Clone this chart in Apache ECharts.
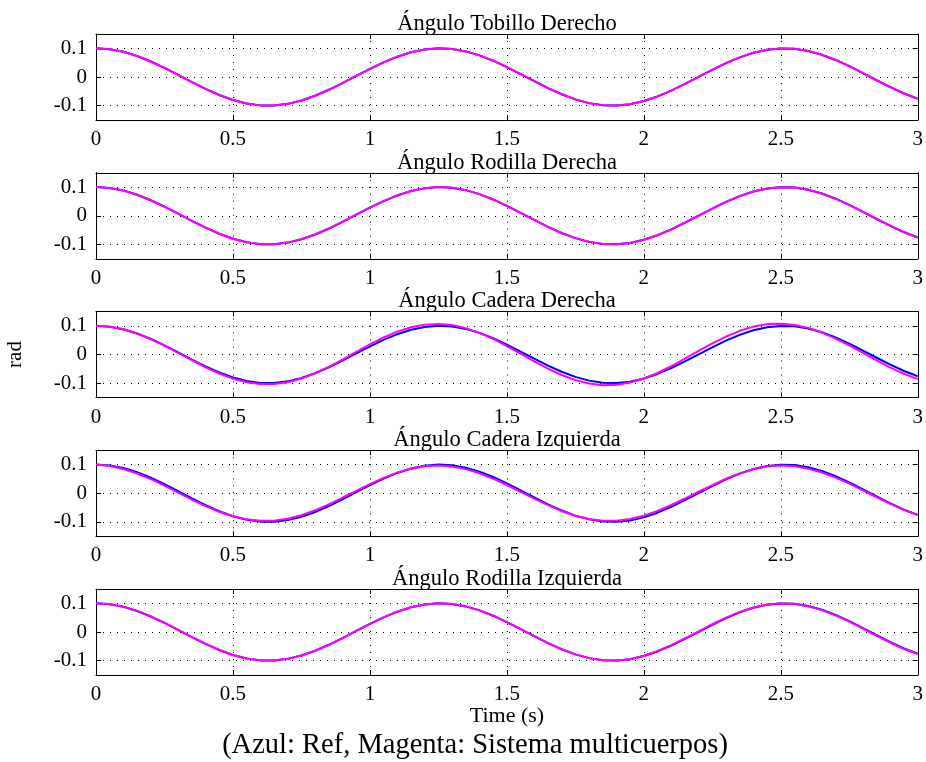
<!DOCTYPE html>
<html>
<head>
<meta charset="utf-8">
<script src="https://cdn.jsdelivr.net/npm/echarts@6/dist/echarts.min.js"></script>
<style>
html,body{margin:0;padding:0;background:#fff;}
#chart{width:926px;height:762px;}
</style>
</head>
<body>
<div id="chart"></div>
<script>
// ---- data ----
const timeS = [0,0.05,0.1,0.15,0.2,0.25,0.3,0.35,0.4,0.45,0.5,0.55,0.6,0.65,0.7,0.75,0.8,0.85,0.9,0.95,
  1,1.05,1.1,1.15,1.2,1.25,1.3,1.35,1.4,1.45,1.5,1.55,1.6,1.65,1.7,1.75,1.8,1.85,1.9,1.95,
  2,2.05,2.1,2.15,2.2,2.25,2.3,2.35,2.4,2.45,2.5,2.55,2.6,2.65,2.7,2.75,2.8,2.85,2.9,2.95,3];

const subplotTitles = ['Ángulo Tobillo Derecho','Ángulo Rodilla Derecha','Ángulo Cadera Derecha','Ángulo Cadera Izquierda','Ángulo Rodilla Izquierda'];
const xTickValues = [0,0.5,1,1.5,2,2.5,3];
const yTickValues = [-0.1,0,0.1];

// blue: reference
const refBlue = [0.1000,0.0969,0.0878,0.0732,0.0540,0.0315,0.0071,-0.0178,-0.0416,-0.0628,-0.0801,-0.0924,-0.0990,-0.0994,-0.0937,-0.0821,-0.0654,-0.0446,-0.0211,0.0038,
  0.0284,0.0512,0.0709,0.0861,0.0960,0.0999,0.0977,0.0893,0.0754,0.0568,0.0347,0.0104,-0.0146,-0.0386,-0.0602,-0.0781,-0.0911,-0.0985,-0.0997,-0.0948,
  -0.0839,-0.0678,-0.0476,-0.0243,0.0004,0.0252,0.0485,0.0685,0.0844,0.0950,0.0998,0.0983,0.0907,0.0775,0.0595,0.0378,0.0137,-0.0113,-0.0355,-0.0576,-0.0760];

// magenta: multibody system
const magTobilloDer = [0.1000,0.0969,0.0878,0.0732,0.0540,0.0315,0.0071,-0.0178,-0.0416,-0.0628,-0.0801,-0.0924,-0.0990,-0.0994,-0.0937,-0.0821,-0.0654,-0.0446,-0.0211,0.0038,
  0.0284,0.0512,0.0709,0.0861,0.0960,0.0999,0.0977,0.0893,0.0754,0.0568,0.0347,0.0104,-0.0146,-0.0386,-0.0602,-0.0781,-0.0911,-0.0985,-0.0997,-0.0948,
  -0.0839,-0.0678,-0.0476,-0.0243,0.0004,0.0252,0.0485,0.0685,0.0844,0.0950,0.0998,0.0983,0.0907,0.0775,0.0595,0.0378,0.0137,-0.0113,-0.0355,-0.0576,-0.0760];
const magRodillaDer = [0.1000,0.0970,0.0879,0.0733,0.0541,0.0316,0.0071,-0.0178,-0.0416,-0.0628,-0.0801,-0.0924,-0.0990,-0.0994,-0.0937,-0.0821,-0.0654,-0.0446,-0.0211,0.0038,
  0.0284,0.0512,0.0709,0.0861,0.0960,0.0999,0.0977,0.0893,0.0754,0.0568,0.0347,0.0104,-0.0146,-0.0386,-0.0602,-0.0781,-0.0911,-0.0985,-0.0997,-0.0948,
  -0.0839,-0.0678,-0.0476,-0.0243,0.0004,0.0252,0.0485,0.0685,0.0844,0.0950,0.0998,0.0983,0.0907,0.0775,0.0595,0.0378,0.0137,-0.0113,-0.0355,-0.0576,-0.0760];
const magCaderaDer = [0.1000,0.0971,0.0881,0.0734,0.0539,0.0308,0.0057,-0.0200,-0.0446,-0.0664,-0.0843,-0.0968,-0.1033,-0.1032,-0.0966,-0.0838,-0.0655,-0.0430,-0.0176,0.0090,
  0.0353,0.0593,0.0796,0.0949,0.1041,0.1068,0.1026,0.0920,0.0755,0.0543,0.0295,0.0028,-0.0240,-0.0494,-0.0716,-0.0893,-0.1013,-0.1070,-0.1059,-0.0980,
  -0.0839,-0.0645,-0.0410,-0.0148,0.0123,0.0387,0.0626,0.0826,0.0973,0.1060,0.1075,0.1032,0.0928,0.0765,0.0553,0.0315,0.0058,-0.0205,-0.0455,-0.0677,-0.0858];
const magCaderaIzq = [0.0999,0.0952,0.0847,0.0689,0.0491,0.0263,0.0020,-0.0222,-0.0449,-0.0646,-0.0803,-0.0911,-0.0963,-0.0955,-0.0888,-0.0765,-0.0595,-0.0388,-0.0156,0.0085,
  0.0320,0.0536,0.0721,0.0856,0.0941,0.0967,0.0932,0.0841,0.0695,0.0507,0.0287,0.0052,-0.0189,-0.0417,-0.0620,-0.0785,-0.0901,-0.0960,-0.0962,-0.0900,
  -0.0782,-0.0613,-0.0410,-0.0184,0.0053,0.0286,0.0505,0.0694,0.0839,0.0932,0.0967,0.0942,0.0858,0.0723,0.0546,0.0336,0.0102,-0.0139,-0.0372,-0.0581,-0.0765];
const magRodillaIzq = [0.1000,0.0975,0.0884,0.0737,0.0543,0.0316,0.0071,-0.0178,-0.0416,-0.0628,-0.0801,-0.0924,-0.0990,-0.0994,-0.0937,-0.0821,-0.0654,-0.0446,-0.0211,0.0038,
  0.0284,0.0512,0.0709,0.0861,0.0960,0.0999,0.0977,0.0893,0.0754,0.0568,0.0347,0.0104,-0.0146,-0.0386,-0.0602,-0.0781,-0.0911,-0.0985,-0.0997,-0.0948,
  -0.0828,-0.0663,-0.0458,-0.0224,0.0024,0.0271,0.0503,0.0700,0.0855,0.0956,0.0999,0.0979,0.0899,0.0762,0.0579,0.0359,0.0117,-0.0133,-0.0374,-0.0592,-0.0773];

const blueSeries = [refBlue, refBlue, refBlue, refBlue, refBlue];
const magentaSeries = [magTobilloDer, magRodillaDer, magCaderaDer, magCaderaIzq, magRodillaIzq];

// ---- layout ----
const FONT = '"Liberation Serif", "Times New Roman", serif';
const FS = 21;
const FS_TITLE = 22.5;
const gridLeft = 96, gridRight = 8, gridH = 86;
const gridTops = [34, 172.75, 311.5, 450.25, 589];

const grids = [], xAxes = [], yAxes = [], series = [], graphics = [];
const fmt = v => String(Math.round(v * 10) / 10);

gridTops.forEach((top, i) => {
  grids.push({left: gridLeft, right: gridRight, top: top, height: gridH, containLabel: false});
  const baseX = {
    gridIndex: i, type: 'value', min: 0, max: 3,
    axisTick: {show: true, inside: true, length: 5, customValues: xTickValues, lineStyle: {color: '#000', width: 1}},
    axisLine: {show: true, onZero: false, lineStyle: {color: '#000', width: 1}}
  };
  xAxes.push(Object.assign({}, baseX, {
    position: 'bottom',
    axisLabel: {show: true, customValues: xTickValues, formatter: fmt, fontFamily: FONT, fontSize: FS, color: '#000', margin: 9},
    splitLine: {show: true, lineStyle: {color: '#000', width: 1, type: [1, 6]}}
  }));
  xAxes.push(Object.assign({}, baseX, {
    position: 'top', axisLabel: {show: false}, splitLine: {show: false}
  }));
  const baseY = {
    gridIndex: i, type: 'value', min: -0.15, max: 0.15,
    axisTick: {show: true, inside: true, length: 5, customValues: yTickValues, lineStyle: {color: '#000', width: 1}},
    axisLine: {show: true, onZero: false, lineStyle: {color: '#000', width: 1}}
  };
  yAxes.push(Object.assign({}, baseY, {
    position: 'left',
    axisLabel: {show: true, customValues: yTickValues, formatter: fmt, fontFamily: FONT, fontSize: FS, color: '#000', margin: 9},
    splitLine: {show: true, lineStyle: {color: '#000', width: 1, type: [1, 6]}}
  }));
  yAxes.push(Object.assign({}, baseY, {
    position: 'right', axisLabel: {show: false}, splitLine: {show: false}
  }));

  series.push({
    type: 'line', xAxisIndex: 2 * i, yAxisIndex: 2 * i, showSymbol: false, symbol: 'none', animation: false,
    data: timeS.map((t, j) => [t, blueSeries[i][j]]),
    lineStyle: {color: '#0000ff', width: 2}, z: 3
  });
  series.push({
    type: 'line', xAxisIndex: 2 * i, yAxisIndex: 2 * i, showSymbol: false, symbol: 'none', animation: false,
    data: timeS.map((t, j) => [t, magentaSeries[i][j]]),
    lineStyle: {color: '#ff00ff', width: 2}, z: 4
  });

  graphics.push({
    type: 'text', x: 507, y: top - 10,
    style: {text: subplotTitles[i], fontFamily: FONT, fontSize: FS_TITLE, fill: '#000', align: 'center', verticalAlign: 'middle'}
  });
});

graphics.push({
  type: 'text', x: 15, y: 354.5, rotation: Math.PI / 2,
  style: {text: 'rad', fontFamily: FONT, fontSize: FS, fill: '#000', align: 'center', verticalAlign: 'middle'}
});
graphics.push({
  type: 'text', x: 507, y: 716,
  style: {text: 'Time (s)', fontFamily: FONT, fontSize: 22, fill: '#000', align: 'center', verticalAlign: 'middle'}
});
graphics.push({
  type: 'text', x: 475, y: 746,
  style: {text: '(Azul: Ref, Magenta: Sistema multicuerpos)', fontFamily: FONT, fontSize: 28.5, fill: '#000', align: 'center', verticalAlign: 'middle'}
});

const chart = echarts.init(document.getElementById('chart'), null, {renderer: 'canvas'});
chart.setOption({
  animation: false,
  backgroundColor: '#fff',
  grid: grids,
  xAxis: xAxes,
  yAxis: yAxes,
  series: series,
  graphic: graphics
});
</script>
</body>
</html>
